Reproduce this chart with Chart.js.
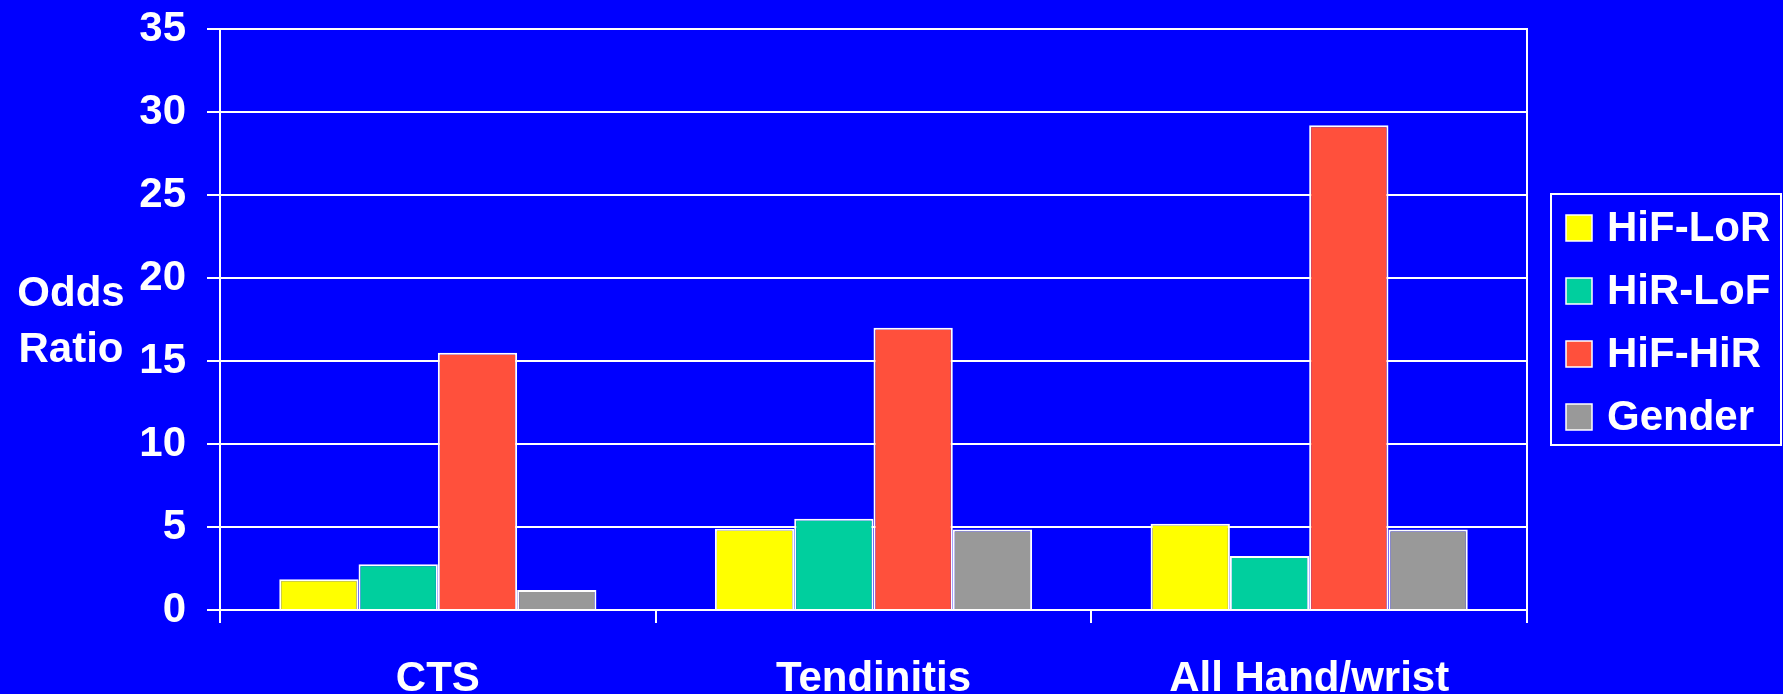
<!DOCTYPE html>
<html>
<head>
<meta charset="utf-8">
<title>Odds Ratio by disorder</title>
<script src="https://cdn.jsdelivr.net/npm/chart.js@4/dist/chart.umd.min.js"></script>
<style>
  html, body { margin: 0; padding: 0; background: #0000FF; }
  #wrap { width: 1783px; height: 694px; position: relative; }
</style>
</head>
<body>
<div id="wrap"><canvas id="chart" width="1783" height="694"></canvas></div>
<script>
// Disorder groups along the x axis
const categories = ['CTS', 'Tendinitis', 'All Hand/wrist'];

// Odds ratios per exposure group
const hifLor = [1.85, 4.9, 5.2];
const hirLof = [2.75, 5.5, 3.25];
const hifHir = [15.5, 17.0, 29.2];
const gender = [1.2, 4.85, 4.85];

const seriesNames = ['HiF-LoR', 'HiR-LoF', 'HiF-HiR', 'Gender'];
const seriesColors = ['#FFFF00', '#00CF9E', '#FF503C', '#999999'];

// Y axis range and step
const yMin = 0;
const yMax = 35;
const yStep = 5;

const yTitleLines = ['Odds', 'Ratio'];

const FONT = '"Liberation Sans", Arial, sans-serif';
const WHITE = '#FFFFFF';

const seriesValues = [hifLor, hirLof, hifHir, gender];

// Horizontal two-line axis title on the left
const yTitlePlugin = {
  id: 'yTitle',
  afterDraw(chart) {
    const ctx = chart.ctx;
    const area = chart.chartArea;
    const midY = (area.top + area.bottom) / 2 + 3;
    ctx.save();
    ctx.fillStyle = WHITE;
    ctx.font = 'bold 42px ' + FONT;
    ctx.textAlign = 'center';
    ctx.textBaseline = 'middle';
    const gap = 56;
    yTitleLines.forEach((t, i) => {
      ctx.fillText(t, 71, midY + (i - (yTitleLines.length - 1) / 2) * gap);
    });
    ctx.restore();
  }
};

// Boxed legend to the right of the plot
const boxedLegendPlugin = {
  id: 'boxedLegend',
  afterDraw(chart) {
    const ctx = chart.ctx;
    const area = chart.chartArea;
    const left = area.right + 24;
    const top = 194;
    const width = 230;
    const height = 251;
    ctx.save();
    ctx.strokeStyle = WHITE;
    ctx.lineWidth = 2;
    ctx.strokeRect(left, top, width, height);
    ctx.font = 'bold 42px ' + FONT;
    ctx.textAlign = 'left';
    ctx.textBaseline = 'middle';
    chart.data.datasets.forEach((ds, i) => {
      const rowMid = top + 34 + i * 63;
      const sx = left + 15;
      ctx.fillStyle = ds.backgroundColor;
      ctx.fillRect(sx, rowMid - 13, 26, 26);
      ctx.strokeStyle = WHITE;
      ctx.lineWidth = 1.5;
      ctx.strokeRect(sx, rowMid - 13, 26, 26);
      ctx.fillStyle = WHITE;
      ctx.fillText(ds.label, left + 56, rowMid + 1);
    });
    ctx.restore();
  }
};

const datasets = seriesNames.map((name, i) => ({
  label: name,
  data: seriesValues[i],
  backgroundColor: seriesColors[i],
  borderColor: WHITE,
  borderWidth: 2,
  borderSkipped: 'start',
  categoryPercentage: 0.728,
  barPercentage: 1.0
}));

new Chart(document.getElementById('chart'), {
  type: 'bar',
  data: { labels: categories, datasets },
  options: {
    responsive: false,
    animation: false,
    devicePixelRatio: 1,
    layout: { padding: { left: 120, right: 256, top: 29, bottom: 0 } },
    plugins: {
      legend: { display: false },
      tooltip: { enabled: false },
      title: { display: false }
    },
    scales: {
      x: {
        offset: true,
        grid: {
          offset: true,
          drawOnChartArea: false,
          drawTicks: true,
          tickLength: 13,
          color: WHITE,
          lineWidth: 2
        },
        border: { display: true, color: WHITE, width: 2 },
        ticks: {
          color: WHITE,
          font: { family: FONT, size: 42, weight: 'bold' },
          padding: 31,
          maxRotation: 0
        },
        afterFit(scale) {
          scale.height = 84;
          scale.paddingLeft = 0;
          scale.paddingRight = 0;
        }
      },
      y: {
        min: yMin,
        max: yMax,
        grid: {
          drawTicks: true,
          tickLength: 13,
          color: WHITE,
          lineWidth: 2
        },
        border: { display: true, color: WHITE, width: 2 },
        ticks: {
          stepSize: yStep,
          color: WHITE,
          font: { family: FONT, size: 42, weight: 'bold' },
          padding: 21
        },
        afterFit(scale) {
          scale.width = 100;
          scale.paddingTop = 0;
          scale.paddingBottom = 0;
        }
      },
      yRight: {
        position: 'right',
        min: yMin,
        max: yMax,
        grid: { drawOnChartArea: false, drawTicks: false },
        border: { display: true, color: WHITE, width: 2 },
        ticks: { display: false },
        afterFit(scale) {
          scale.width = 0;
          scale.paddingTop = 0;
          scale.paddingBottom = 0;
        }
      }
    }
  },
  plugins: [yTitlePlugin, boxedLegendPlugin]
});
</script>
</body>
</html>
